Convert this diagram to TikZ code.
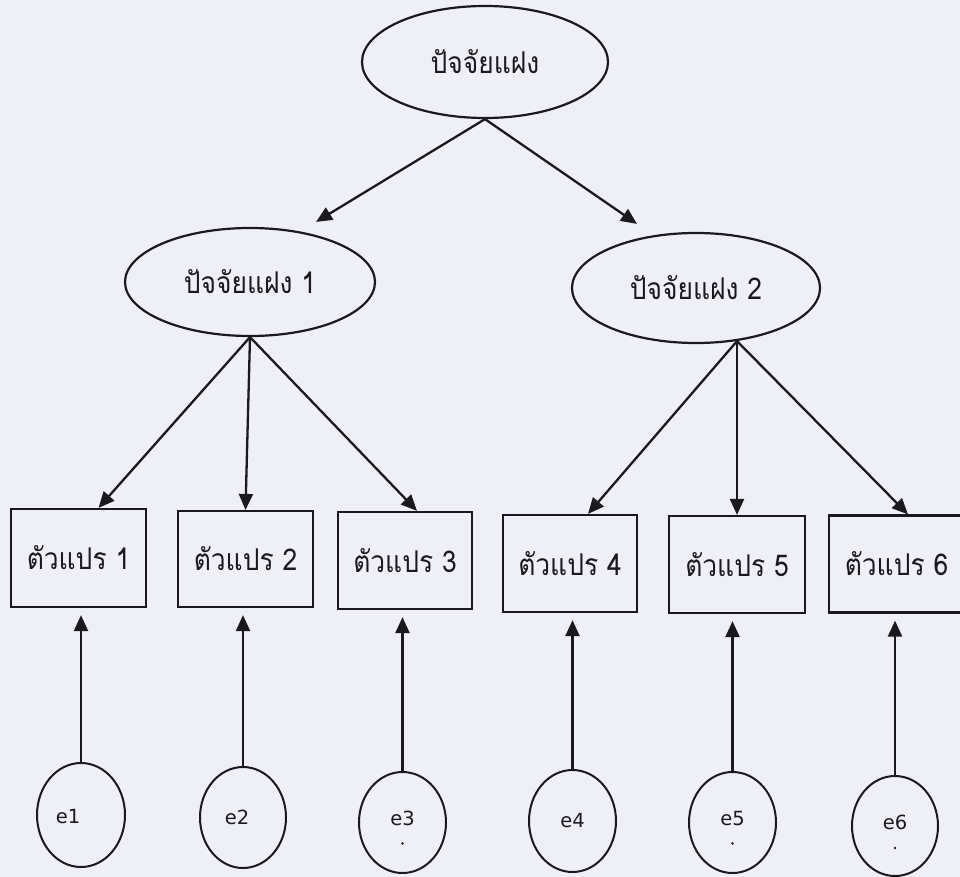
\documentclass[tikz,border=0pt]{standalone}
\usepackage{fontspec}
\newfontfamily\thaifont[Script=Thai,FakeStretch=0.88]{Loma}
\newfontfamily\labelfont{DejaVu Sans}
\usetikzlibrary{shapes.geometric,arrows.meta,calc}
\definecolor{paper}{RGB}{239,240,247}
\definecolor{ink}{RGB}{25,25,30}
\begin{document}
\begin{tikzpicture}[x=1pt,y=-1pt,
  line width=2.3pt, draw=ink,
  factor/.style={ellipse, draw=ink, line width=2.2pt, inner sep=0pt,
    font=\thaifont\fontsize{30}{33}\selectfont, text=ink},
  observed/.style={rectangle, draw=ink, line width=2.2pt, inner sep=0pt,
    font=\thaifont\fontsize{30}{33}\selectfont, text=ink},
  errterm/.style={ellipse, draw=ink, line width=2pt, inner sep=0pt,
    label distance=0pt},
  errtext/.style={font=\labelfont\fontsize{19.5}{22}\selectfont, text=ink},
  path/.style={-{Triangle[length=16pt,width=14pt]}, line width=2.3pt, draw=ink},
  errpath/.style={path, shorten >=7pt}
]
\fill[paper] (0,0) rectangle (960,877);
\useasboundingbox (0,0) rectangle (960,877);

% second-order factor
\node[factor, minimum width=246pt, minimum height=112pt] (top) at (485,62) {ปัจจัยแฝง};

% first-order factors
\node[factor, minimum width=250pt, minimum height=108pt] (L1) at (250,282) {ปัจจัยแฝง 1};
\node[factor, minimum width=248pt, minimum height=110pt] (L2) at (696,288) {ปัจจัยแฝง 2};

% observed variables
\node[observed, minimum width=135pt, minimum height=98pt] (b1) at (78.5,558) {ตัวแปร 1};
\node[observed, minimum width=135pt, minimum height=96pt] (b2) at (245.5,559) {ตัวแปร 2};
\node[observed, minimum width=134pt, minimum height=97pt] (b3) at (405,560.5) {ตัวแปร 3};
\node[observed, minimum width=134pt, minimum height=97pt] (b4) at (570,563.5) {ตัวแปร 4};
\node[observed, minimum width=136pt, minimum height=97pt] (b5) at (737,564.5) {ตัวแปร 5};
\node[observed, minimum width=135pt, minimum height=97pt] (b6) at (896.5,564) {ตัวแปร 6};

% error terms
\node[errterm, minimum width=88pt, minimum height=104pt,
  label={[errtext, xshift=-13pt, yshift=-2pt]center:e1}] (e1) at (81,815) {};
\node[errterm, minimum width=86pt, minimum height=101pt,
  label={[errtext, xshift=-6pt]center:e2}] (e2) at (243,817.5) {};
\node[errterm, minimum width=87pt, minimum height=101pt,
  label={[errtext, yshift=4pt]center:e3}] (e3) at (402.5,822.5) {};
\node[errterm, minimum width=87pt, minimum height=102pt,
  label={[errtext]center:e4}] (e4) at (572.5,821) {};
\node[errterm, minimum width=87pt, minimum height=101pt,
  label={[errtext, yshift=4pt]center:e5}] (e5) at (732.5,822.5) {};
\node[errterm, minimum width=86pt, minimum height=100pt,
  label={[errtext, yshift=4pt]center:e6}] (e6) at (895,826) {};

% small marks inside some error terms
\fill[ink] ($(e3.center)+(0,21)$) circle (1.4);
\fill[ink] ($(e5.center)+(0,21)$) circle (1.4);
\fill[ink] ($(e6.center)+(0,22)$) circle (1.4);

% loadings of the second-order factor
\draw[path] (top.south) -- ($(L1.north)+(66,-5)$);
\draw[path] (top.south) -- ($(L2.north)+(-59,-8)$);

% loadings of factor 1
\draw[path] (L1.south) -- ($(b1.north)+(20,0)$);
\draw[path] (L1.south) -- (b2.north);
\draw[path] (L1.south) -- ($(b3.north)+(12,0)$);

% loadings of factor 2
\coordinate (L2foot) at ($(L2.south)+(41,-3)$);
\draw[path] (L2foot) -- ($(b4.north)+(18,0)$);
\draw[path] (L2foot) -- (L2foot |- b5.north);
\draw[path] (L2foot) -- ($(b6.north)+(11.5,0)$);

% error paths
\foreach \i in {1,...,6}{
  \draw[errpath] (e\i.north) -- (e\i.north |- b\i.south);
}
\end{tikzpicture}
\end{document}
